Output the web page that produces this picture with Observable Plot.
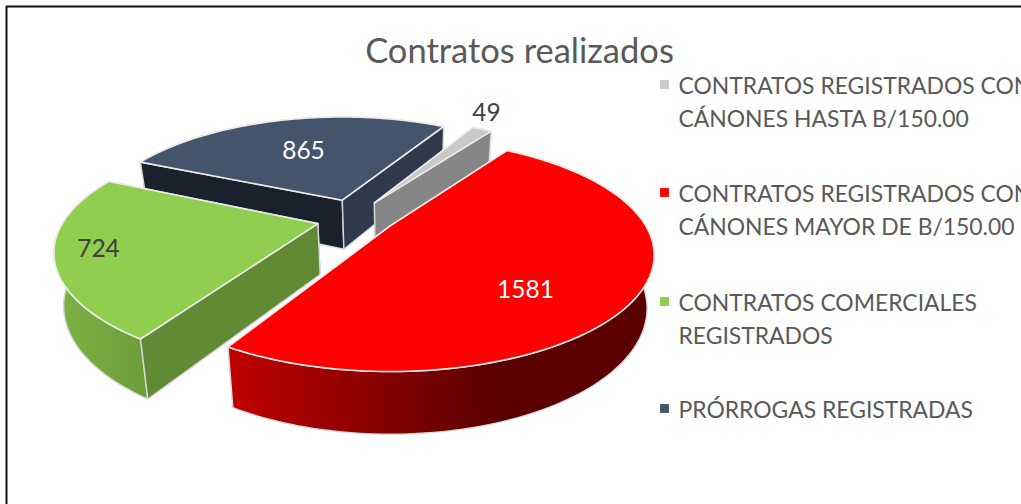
<!DOCTYPE html>
<html><head><meta charset="utf-8">
<style>html,body{margin:0;padding:0;background:#fff;overflow:hidden}svg{display:block}</style>
<script src="https://cdn.jsdelivr.net/npm/d3@7"></script>
<script src="https://cdn.jsdelivr.net/npm/@observablehq/plot@0.6"></script>
</head><body><div id="chart"></div>
<script>
const categories = [
  "CONTRATOS REGISTRADOS CON\nCÁNONES HASTA B/150.00",
  "CONTRATOS REGISTRADOS CON\nCÁNONES MAYOR DE B/150.00",
  "CONTRATOS COMERCIALES\nREGISTRADOS",
  "PRÓRROGAS REGISTRADAS"
];
const values = [49, 1581, 724, 865];
const topColors = ["#c9c9c9", "#ff0000", "#8fce4f", "#44546a"];
const title = "Contratos realizados";

// layout of the 3D view
const W = 1021, H = 504;
const startAngle = 28, R = 255.6, Ry = 104, persp = 0.25;
const origin = [355, 219], explode = 0.16, explodeY = 1.3;
// perspective corrections per slice: cut-edge angles (degrees), apex shift, radial scale
const angleNudge = [[0, 0], [0, -0.5], [3, 4], [2.5, 2.5]];
const apexShift = [[-2, 2], [0, -5], [1, -3], [1, 1]];
const radialScale = [[1, 1], [1, 1.05], [1, 1.05], [0.95, 1]];
const depth = y => 33 + 0.08 * y;
const shiftK = 0.028, vanishX = 400;
const rad = d => d * Math.PI / 180;
const total = d3.sum(values);

let acc = startAngle;
const slices = values.map((v, i) => {
  const a0 = acc + angleNudge[i][0], a1 = acc + v / total * 360 + angleNudge[i][1];
  const mid = rad(acc + v / total * 180);
  acc += v / total * 360;
  const apex = [origin[0] + explode * R * Math.sin(mid) + apexShift[i][0],
                origin[1] - explode * explodeY * Ry * Math.cos(mid) + apexShift[i][1]];
  return {i, a0, a1, apex};
});
const onDisk = (s, deg) => {
  const X = Math.sin(rad(deg)), Y = -Math.cos(rad(deg)), w = 1 - persp * Y;
  const [sx, sy] = radialScale[s.i];
  return [s.apex[0] + sx * R * X / w, s.apex[1] + sy * Ry * Y / w];
};
const below = ([x, y]) => [x + (vanishX - x) * shiftK, y + depth(y)];
const arc = (s, from, to) => {
  const n = Math.max(2, Math.ceil(Math.abs(to - from) / 1.5));
  return d3.range(n + 1).map(k => onDisk(s, from + (to - from) * k / n));
};
const poly = (pts, opts) => Plot.line(pts, {x: d => d[0], y: d => d[1], curve: "linear-closed",
  strokeLinejoin: "round", ...opts});

const wallStroke = {stroke: "#d9d9d9", strokeWidth: 1.4};
const topStroke = {stroke: "#ececec", strokeWidth: 1.6};
const wallFill = [
  {outer: "#868686", cut0: "#868686", cut1: "#868686"},
  {outer: "url(#redWall)", cut0: "#7a0000", cut1: "#7a0000"},
  {outer: "url(#greenWall)", cut0: "#628a35", cut1: "#628a35"},
  {outer: "#2a3443", cut0: "#1a212c", cut1: "#2e3a4b"}
];
// which cut faces look towards the viewer, per slice: hidden ones are drawn first
const cutVisible = [[false, true], [false, false], [true, false], [true, true]];
function sliceMarks(s) {
  const f = wallFill[s.i];
  const a = arc(s, s.a0, s.a1);
  const outer = [...a, ...a.map(below).reverse()];
  const first = a[0], last = a[a.length - 1];
  const cutStart = poly([s.apex, first, below(first), below(s.apex)], {fill: f.cut0, ...wallStroke});
  const cutEnd = poly([s.apex, last, below(last), below(s.apex)], {fill: f.cut1, ...wallStroke});
  const [v0, v1] = cutVisible[s.i];
  return [
    ...(v0 ? [] : [cutStart]),
    ...(v1 ? [] : [cutEnd]),
    poly(outer, {fill: f.outer, ...wallStroke}),
    ...(v0 ? [cutStart] : []),
    ...(v1 ? [cutEnd] : []),
    poly([s.apex, ...a], {fill: topColors[s.i], ...topStroke})
  ];
}
const gradient = (id, x1, x2, stops) => {
  const g = d3.create("svg:linearGradient").attr("id", id)
    .attr("gradientUnits", "userSpaceOnUse")
    .attr("x1", x1).attr("x2", x2).attr("y1", 0).attr("y2", 0);
  stops.forEach(([o, c]) => g.append("stop").attr("offset", o).attr("stop-color", c));
  return g.node();
};
const defs = () => {
  const d = d3.create("svg:defs");
  d.append(() => gradient("redWall", 228, 495, [[0, "#c00000"], [1, "#5a0000"]]));
  d.append(() => gradient("greenWall", 58, 148, [[0, "#7fb244"], [1, "#6b9c39"]]));
  return d.node();
};

const font = "Lato, Carlito, Calibri, sans-serif";
const legendX = 664, legendY = [84, 192, 301, 408], legendTextX = 678, legendFs = 22.9;
const labelX = [486, 525, 98, 303], labelY = [113, 290, 249, 151];
const labelColor = ["#404040", "#ffffff", "#404040", "#ffffff"];
const order = [3, 0, 2, 1];
const legendRows = categories.map((c, i) => ({c, i}));

const chart = Plot.plot({
  width: W, height: H, margin: 0,
  x: {domain: [0, W], range: [0, W], axis: null},
  y: {domain: [0, H], range: [0, H], axis: null},
  style: {background: "#fff", fontFamily: font},
  marks: [
    defs,
    Plot.ruleY([6], {x1: 6, x2: W, stroke: "#111", strokeWidth: 2}),
    Plot.ruleX([6], {y1: 6, y2: H, stroke: "#111", strokeWidth: 2}),
    ...order.flatMap(i => sliceMarks(slices[i])),
    Plot.text(values, {x: (d, i) => labelX[i], y: (d, i) => labelY[i], text: d => String(d),
      fill: (d, i) => labelColor[i], fontSize: 24.5, fontFamily: font, textAnchor: "middle"}),
    Plot.text([title], {x: 519, y: 51, text: d => d, fill: "#595959", fontSize: 34.5, fontFamily: font, textAnchor: "middle"}),
    Plot.dot(legendRows, {x: legendX, y: d => legendY[d.i], r: 5, symbol: "square",
      fill: d => topColors[d.i], stroke: "none"}),
    Plot.text(legendRows, {x: legendTextX, y: d => legendY[d.i], text: d => d.c, textAnchor: "start",
      lineAnchor: "top", dy: -14, lineHeight: 33 / legendFs, fill: "#595959", fontSize: legendFs, fontFamily: font})
  ]
});
document.getElementById("chart").append(chart);
</script></body></html>
